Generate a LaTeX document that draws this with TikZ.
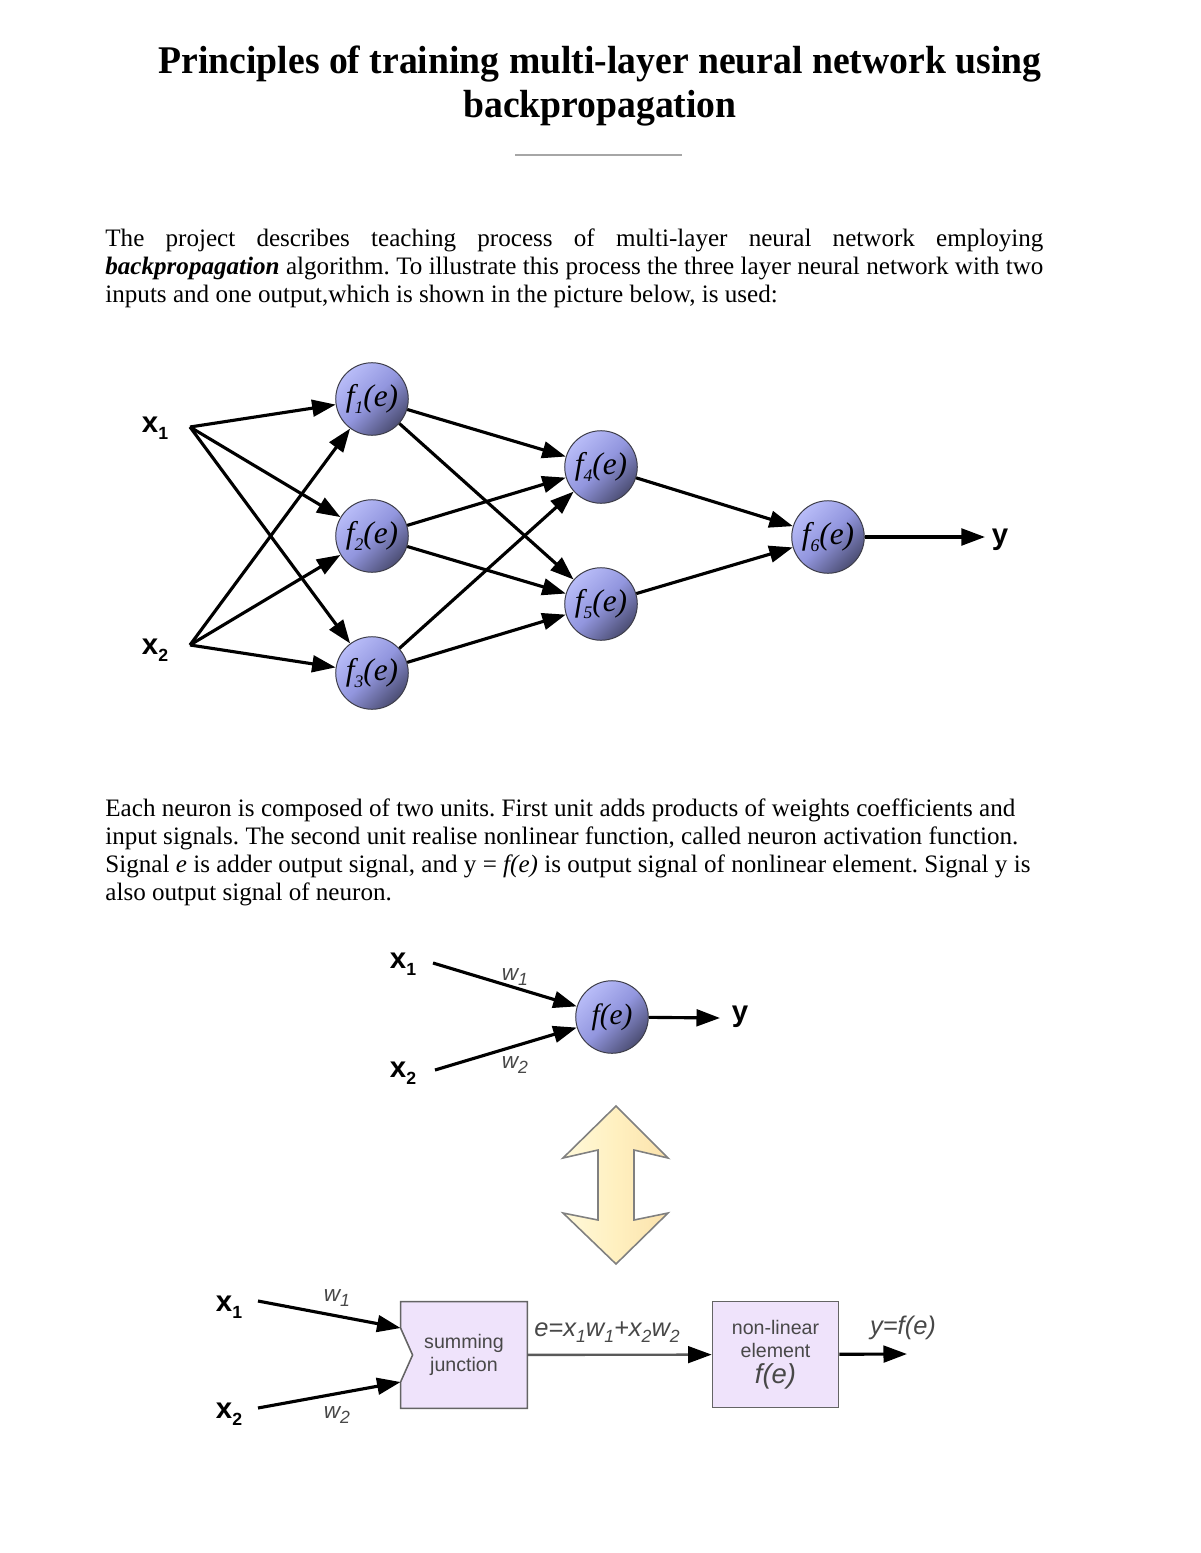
\documentclass[tikz,border=0pt]{standalone}
\usepackage{fontspec}
\setmainfont{Liberation Serif}
\setsansfont{Liberation Sans}
\newfontfamily\titlefont[FakeStretch=0.96]{Liberation Serif}
\usetikzlibrary{arrows.meta,calc,backgrounds,positioning}
\frenchspacing

\definecolor{nlight}{RGB}{184,188,248}
\definecolor{nmid}{RGB}{146,150,222}
\definecolor{ndark}{RGB}{76,78,116}
\definecolor{nedge}{RGB}{60,60,72}
\definecolor{boxfill}{RGB}{239,227,251}
\definecolor{boxedge}{RGB}{100,100,100}
\definecolor{labgray}{RGB}{72,72,72}
\definecolor{arrowlight}{RGB}{255,249,218}
\definecolor{arrowmid}{RGB}{255,240,192}
\definecolor{arrowdark}{RGB}{251,226,172}

\newcommand\lowsub[1]{\raisebox{-0.45ex}{\fontsize{9}{9}\selectfont #1}}

\begin{document}
\begin{tikzpicture}[x=0.51pt, y=-0.51pt,
  neuron/.style={circle, draw=nedge, line width=0.5pt, minimum size=37pt, inner sep=0pt,
    top color=nlight, bottom color=ndark, middle color=nmid, shading angle=45,
    font=\fontsize{16}{16}\selectfont\itshape},
  syn/.style={line width=1.6pt, -{Triangle[length=12pt,width=8.5pt]}},
  inlabel/.style={inner sep=0pt, font=\sffamily\bfseries\fontsize{15}{15}\selectfont},
  wlabel/.style={inner sep=0pt, text=labgray, font=\sffamily\itshape\fontsize{11.5}{11.5}\selectfont},
  block/.style={minimum width=64.3pt, minimum height=54pt, inner sep=0pt, align=center,
    text=labgray, font=\sffamily\fontsize{10}{12}\selectfont},
  txt/.style={anchor=base west, inner sep=0pt, font=\fontsize{12.8}{14}\selectfont},
]
  \begin{scope}[on background layer]
    \fill[white] (0,0) rectangle (1200,1553);
  \end{scope}
  \useasboundingbox (0,0) rectangle (1200,1553);

  % title and text
  \node[align=center, inner sep=0pt, font=\titlefont\bfseries\fontsize{20}{22}\selectfont]
    (title) at (600,86) {Principles of training multi-layer neural network using\\backpropagation};
  \draw[gray!70, line width=1pt] (515,155) -- (682,155);

  \node[txt] (p1) at (105,246) {\makebox[478.4pt][s]{The project describes teaching process of multi-layer neural network employing}};
  \node[txt] (p2) at (105,274) {\makebox[478.4pt][s]{\textbf{\textit{backpropagation}} algorithm. To illustrate this process the three layer neural network with two}};
  \node[txt] (p3) at (105,302) {inputs and one output,which is shown in the picture below, is used:};

  % network
  \node[inlabel] (x1) at (155,428) {x\lowsub{1}};
  \node[inlabel] (x2) at (155,650) {x\lowsub{2}};
  \coordinate (i1) at (190,427);
  \coordinate (i2) at (190,645);
  \node[neuron] (f1) at (372,399) {f\lowsub{1}(e)};
  \node[neuron] (f2) at (372,536) {f\lowsub{2}(e)};
  \node[neuron] (f3) at (372,673) {f\lowsub{3}(e)};
  \node[neuron] (f4) at (601,467) {f\lowsub{4}(e)};
  \node[neuron] (f5) at (601,604) {f\lowsub{5}(e)};
  \node[neuron] (f6) at (828,537) {f\lowsub{6}(e)};
  \coordinate (out) at (985,537);
  \node[inlabel] (y) at (1000,540) {y};

  \draw[syn] (i1) -- (f1);
  \draw[syn] (i1) -- (f2);
  \draw[syn] (i1) -- (f3);
  \draw[syn] (i2) -- (f1);
  \draw[syn] (i2) -- (f2);
  \draw[syn] (i2) -- (f3);
  \draw[syn] (f1) -- (f4);
  \draw[syn] (f1) -- (f5);
  \draw[syn] (f2) -- (f4);
  \draw[syn] (f2) -- (f5);
  \draw[syn] (f3) -- (f4);
  \draw[syn] (f3) -- (f5);
  \draw[syn] (f4) -- (f6);
  \draw[syn] (f5) -- (f6);
  \draw[syn] (f6) -- (out);

  \node[txt] (q1) at (105,816) {\makebox[464.1pt][s]{Each neuron is composed of two units. First unit adds products of weights coefficients and}};
  \node[txt] (q2) at (105,844) {\makebox[465.6pt][s]{input signals. The second unit realise nonlinear function, called neuron activation function.}};
  \node[txt] (q3) at (105,872) {\makebox[471.8pt][s]{Signal \textit{e} is adder output signal, and y = \textit{f(e)} is output signal of nonlinear element. Signal y is}};
  \node[txt] (q4) at (105,900) {also output signal of neuron.};

  % single neuron
  \node[inlabel] (n1) at (403,964) {x\lowsub{1}};
  \node[inlabel] (n2) at (403,1073) {x\lowsub{2}};
  \coordinate (j1) at (433,963);
  \coordinate (j2) at (435,1070);
  \node[neuron, font=\fontsize{15}{15}\selectfont\itshape] (fe) at (612,1017) {f(e)};
  \coordinate (ny) at (720,1018);
  \node[inlabel] (y2) at (740,1017) {y};
  \node[wlabel] (w1) at (515,977) {w\lowsub{\itshape 1}};
  \node[wlabel] (w2) at (515,1065) {w\lowsub{\itshape 2}};
  \draw[syn] (j1) -- (fe);
  \draw[syn] (j2) -- (fe);
  \draw[syn] (fe) -- (ny);

  % double arrow
  \draw[draw=gray, line width=0.8pt, left color=arrowlight, right color=arrowdark, middle color=arrowmid]
    (616,1106) -- (668,1158) -- (634,1150) -- (634,1220) -- (668,1213) -- (616,1264)
    -- (563,1213) -- (598,1220) -- (598,1150) -- (563,1158) -- cycle;

  % block diagram
  \node[block] (sum) at (464,1355) {summing\\junction};
  \node[block, draw=boxedge, fill=boxfill, line width=0.8pt] (nle) at (775.5,1354.5)
    {non-linear\\element\\[1pt]{\fontsize{14}{14}\selectfont\itshape f(e)}};
  \begin{scope}[on background layer]
    \draw[draw=boxedge, fill=boxfill, line width=0.8pt]
      (sum.north west) -- (sum.north east) -- (sum.south east) -- (sum.south west)
      -- ($(sum.west)+(0,27)$) -- ($(sum.west)+(12,0)$) -- ($(sum.west)+(0,-27)$) -- cycle;
  \end{scope}
  \coordinate (s1) at ($(sum.west)+(0,-27)$);
  \coordinate (s2) at ($(sum.west)+(0,27)$);
  \node[inlabel] (b1) at (229,1307) {x\lowsub{1}};
  \node[inlabel] (b2) at (229,1414) {x\lowsub{2}};
  \coordinate (k1) at (258,1301);
  \coordinate (k2) at (258,1408);
  \node[wlabel] (v1) at (337,1298) {w\lowsub{\itshape 1}};
  \node[wlabel] (v2) at (337,1415) {w\lowsub{\itshape 2}};
  \draw[syn] (k1) -- (s1);
  \draw[syn] (k2) -- (s2);
  \draw[line width=1.2pt, draw=gray!70!black, -{Triangle[length=12pt,width=8.5pt,color=black]}] (sum) -- (nle);
  \node[wlabel, font=\sffamily\itshape\fontsize{13}{13}\selectfont] (elab) at (607,1332)
    {e=x\lowsub{1}w\lowsub{1}+x\lowsub{2}w\lowsub{2}};
  \coordinate (yo) at (907,1354);
  \draw[syn] (nle) -- (yo);
  \node[wlabel, font=\sffamily\itshape\fontsize{13}{13}\selectfont] (ylab) at (903,1328) {y=f(e)};
\end{tikzpicture}
\end{document}
